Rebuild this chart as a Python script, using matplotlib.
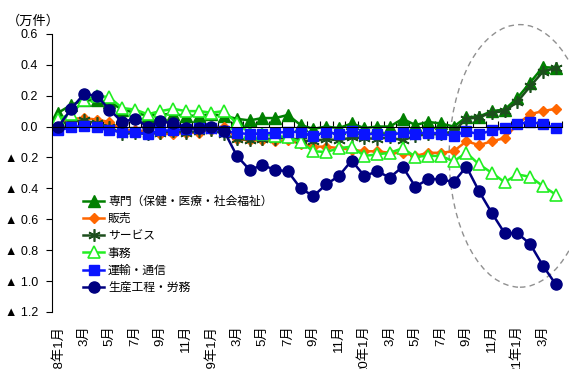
import numpy as np
import matplotlib.pyplot as plt
from matplotlib.patches import Ellipse
from matplotlib.ticker import FuncFormatter

plt.rcParams['font.family'] = ['Liberation Sans', 'Noto Sans CJK JP', 'DejaVu Sans']

# monthly, 2018/1 - 2021/4 (unit: 10k)
months = [f'{m}月' for m in [1, 2, 3, 4, 5, 6, 7, 8, 9, 10, 11, 12] * 3] + ['1月', '2月', '3月', '4月']
year_marks = {0: '18年', 12: '19年', 24: '20年', 36: '21年'}

senmon = [0.09, 0.14, 0.17, 0.17, 0.16, 0.11, 0.09, 0.07, 0.08, 0.08,
          0.07, 0.07, 0.08, 0.07, 0.05, 0.04, 0.055, 0.055, 0.075, 0.01,
          -0.015, 0.0, -0.01, 0.02, -0.01, 0.0, 0.0, 0.05, 0.01, 0.03,
          0.02, 0.0, 0.06, 0.065, 0.10, 0.11, 0.185, 0.285, 0.385, 0.38]
hanbai = [0.03, 0.05, 0.055, 0.045, 0.03, -0.02, -0.025, -0.03, -0.045, -0.05,
          -0.04, -0.04, -0.02, 0.0, -0.08, -0.09, -0.09, -0.095, -0.09, -0.11,
          -0.13, -0.13, -0.14, -0.15, -0.16, -0.16, -0.17, -0.17, -0.19, -0.17,
          -0.17, -0.16, -0.095, -0.12, -0.095, -0.075, 0.015, 0.08, 0.10, 0.115]
service = [0.02, 0.03, 0.04, 0.02, 0.0, -0.05, -0.04, -0.05, -0.04, -0.03,
           -0.04, -0.03, -0.02, -0.05, -0.08, -0.085, -0.08, -0.08, -0.07, -0.09,
           -0.095, -0.08, -0.09, -0.07, -0.075, -0.08, -0.07, -0.09, -0.06, -0.05,
           -0.05, -0.03, 0.05, 0.06, 0.09, 0.10, 0.16, 0.26, 0.355, 0.38]
jimu = [0.05, 0.08, 0.17, 0.2, 0.19, 0.12, 0.11, 0.08, 0.1, 0.115,
        0.1, 0.1, 0.09, 0.1, 0.02, -0.04, -0.05, -0.06, -0.07, -0.1,
        -0.16, -0.165, -0.14, -0.13, -0.19, -0.18, -0.17, -0.14, -0.195, -0.19,
        -0.19, -0.225, -0.17, -0.245, -0.30, -0.36, -0.31, -0.325, -0.385, -0.44]
unyu = [-0.025, -0.005, 0.005, -0.005, -0.025, -0.035, -0.035, -0.05, -0.025, -0.025,
        -0.015, -0.01, -0.01, -0.03, -0.04, -0.05, -0.045, -0.04, -0.035, -0.035,
        -0.06, -0.035, -0.05, -0.03, -0.045, -0.05, -0.06, -0.035, -0.045, -0.04,
        -0.045, -0.06, -0.03, -0.05, -0.025, -0.01, 0.015, 0.03, 0.015, -0.01]
seisan = [0.0, 0.115, 0.21, 0.20, 0.11, 0.03, 0.05, 0.0, 0.035, 0.02,
          -0.01, -0.01, 0.0, -0.03, -0.19, -0.28, -0.25, -0.28, -0.29, -0.40,
          -0.45, -0.375, -0.32, -0.22, -0.32, -0.29, -0.33, -0.26, -0.39, -0.34,
          -0.34, -0.36, -0.26, -0.42, -0.56, -0.69, -0.69, -0.76, -0.90, -1.02]

x = np.arange(len(seisan))

fig = plt.figure(figsize=(5.69, 3.69), dpi=100)
ax = fig.add_axes([0.0914, 0.1547, 0.8963, 0.7535])

ax.plot(x, senmon, color='#008000', lw=1.8, marker='^', ms=8, label='専門（保健・医療・社会福祉）')
ax.plot(x, hanbai, color='#ff6600', lw=1.8, marker='D', ms=5.5, label='販売')
ax.plot(x, service, color='#1d4f1d', lw=1.8, marker=(6, 2, 0), ms=9, mew=1.2, label='サービス')
ax.plot(x, jimu, color='#22ee22', lw=1.8, marker='^', ms=8, mfc='white', mew=1.2, label='事務')
ax.plot(x, unyu, color='#0a14ff', lw=1.8, marker='s', ms=7, label='運輸・通信')
ax.plot(x, seisan, color='#000080', lw=1.8, marker='o', ms=8, label='生産工程・労務')

# highlight the latest months
ax.add_patch(Ellipse((36.2, -0.19), 11.1, 1.70, fill=False, ls=(0, (4, 3)),
                     ec='#909090', lw=1, clip_on=False))


def ylabel(v, _):
    v = round(v, 1)
    if v < 0:
        return f'▲ {-v:.1f}'
    return f'{abs(v):.1f}'


ax.set_xlim(-0.5, len(x) - 0.5)
ax.set_ylim(-1.2, 0.6)
ax.set_yticks(np.arange(-1.2, 0.61, 0.2))
ax.yaxis.set_major_formatter(FuncFormatter(ylabel))
ax.tick_params(axis='y', direction='out', length=4, labelsize=9, pad=6)

# zero line as the category axis with boundary ticks
ax.spines['bottom'].set_position(('data', 0))
ax.spines['top'].set_visible(False)
ax.spines['right'].set_visible(False)
ax.set_xticks(np.arange(-0.5, len(x), 1))
ax.tick_params(axis='x', direction='in', length=4, labelbottom=False)

sec = ax.secondary_xaxis('bottom')
pos = x[::2]
sec.set_xticks(pos, [year_marks.get(i, '') + months[i] for i in pos], rotation=90, va='top')
sec.tick_params(length=0, pad=9.5, labelsize=9.5)
sec.spines['bottom'].set_visible(False)

fig.text(0.058, 0.943, '（万件）', fontsize=9.5, ha='center', va='center')

ax.legend(loc='upper left', bbox_to_anchor=(0.061, 0.418), frameon=False, fontsize=8.5,
          numpoints=1, handlelength=1.8, handletextpad=0.3, labelspacing=0.45,
          borderpad=0, borderaxespad=0)

fig.savefig('out.png', dpi=100)
